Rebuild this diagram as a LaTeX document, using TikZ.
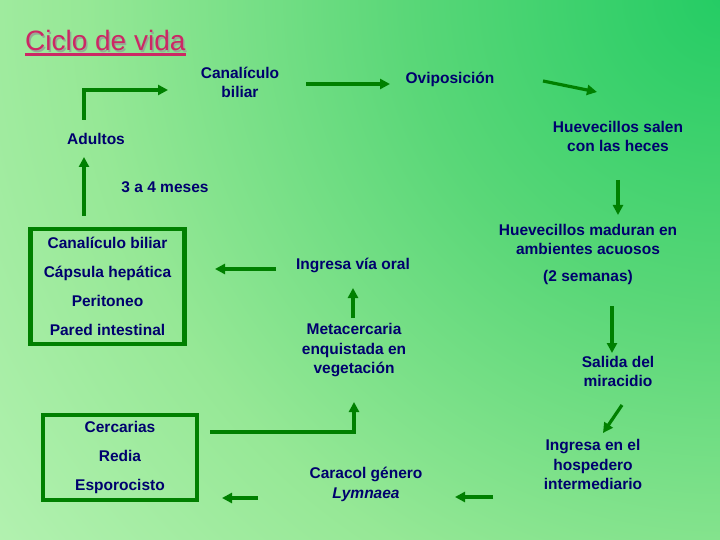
\documentclass[tikz,border=0pt]{standalone}
\usepackage{fontspec}
\setmainfont{Liberation Sans}
\usetikzlibrary{arrows.meta}
\definecolor{navy}{RGB}{0,0,110}
\definecolor{arrowgreen}{RGB}{0,128,0}
\definecolor{titlered}{RGB}{204,40,100}
\definecolor{shadowgray}{RGB}{150,170,150}
\definecolor{gA}{RGB}{36,204,100}
\definecolor{gB}{RGB}{90,215,120}
\definecolor{gC}{RGB}{150,232,150}
\definecolor{gD}{RGB}{196,247,192}
\pgfdeclareradialshading{bgshade}{\pgfpoint{0bp}{0bp}}{color(0bp)=(gA); color(8bp)=(gB); color(16bp)=(gC); color(27bp)=(gD); color(50bp)=(gD)}
\begin{document}
\begin{tikzpicture}[x=1pt,y=-1pt,
  lbl/.style={text=navy, font=\fontsize{15.5}{19.5}\selectfont\bfseries, align=center, inner sep=0pt},
  arr/.style={draw=arrowgreen, line width=3.2pt, -{Triangle[length=10pt,width=10pt]}},
  stagebox/.style={draw=arrowgreen, line width=4.3pt, inner sep=0pt, align=center,
    text=navy, font=\fontsize{15.5}{29}\selectfont\bfseries}
]
\useasboundingbox (0,0) rectangle (720,540);
\begin{scope}
  \clip (0,0) rectangle (720,540);
  \fill[gD] (0,0) rectangle (720,540);
  \shade[shading=bgshade] (725,-5) circle (1000);
\end{scope}

% title
\node[anchor=base west, inner sep=0pt, text=shadowgray, font=\fontsize{28}{30}\selectfont] at (26.5,52.5) {Ciclo de vida};
\node[anchor=base west, inner sep=0pt, text=titlered, font=\fontsize{28}{30}\selectfont] (title) at (25,51) {Ciclo de vida};
\draw[titlered, line width=3pt] ([yshift=-3.5pt]title.base west) -- ([yshift=-3.5pt]title.base east);

% boxes
\node[stagebox, minimum width=154, minimum height=115] (box1) at (107.5,286.5)
  {Canalículo biliar\\Cápsula hepática\\Peritoneo\\Pared intestinal};
\node[stagebox, minimum width=154, minimum height=85] (box2) at (120,457.5)
  {Cercarias\\Redia\\Esporocisto};

% labels
\node[lbl] (canal) at (240,82.5) {Canalículo\\biliar};
\node[lbl] (ovi) at (450,79) {Oviposición};
\node[lbl] (salen) at (618,136.5) {Huevecillos salen\\con las heces};
\node[lbl] (adultos) at (96,139) {Adultos};
\node[lbl] (meses) at (165,187) {3 a 4 meses};
\node[lbl] (maduran) at (588,239.5) {Huevecillos maduran en\\ambientes acuosos};
\node[lbl] (semanas) at (588,277) {(2 semanas)};
\node[lbl] (oral) at (353,265) {Ingresa vía oral};
\node[lbl] (meta) at (354,350.5) {Metacercaria\\enquistada en\\vegetación};
\node[lbl] (salida) at (618,371.5) {Salida del\\miracidio};
\node[lbl] (hosp) at (593,464.5) {Ingresa en el\\hospedero\\intermediario};
\node[lbl] (caracol) at (366,484.5) {Caracol género\\\textit{Lymnaea}};

% arrow end points
\coordinate (a1s) at (84,216);   \coordinate (a1e) at (84,157);
\coordinate (a2s) at (84,120);   \coordinate (a2e) at (168,90);
\coordinate (a3s) at (306,84);   \coordinate (a3e) at (390,84);
\coordinate (a4s) at (543,81);   \coordinate (a4e) at (597,92);
\coordinate (a5s) at (618,180);  \coordinate (a5e) at (618,215);
\coordinate (a6s) at (612,306);  \coordinate (a6e) at (612,353);
\coordinate (a7s) at (622,405);  \coordinate (a7e) at (603,433);
\coordinate (a8s) at (493,497);  \coordinate (a8e) at (455,497);
\coordinate (a9s) at (258,498);  \coordinate (a9e) at (222,498);
\coordinate (a10s) at (210,432); \coordinate (a10e) at (354,402);
\coordinate (a11s) at (353,318); \coordinate (a11e) at (353,288);
\coordinate (a12s) at (276,269); \coordinate (a12e) at (215,269);

\draw[arr] (a1s) -- (a1e);
\draw[arr] (a2s) |- (a2e);
\draw[arr] (a3s) -- (a3e);
\draw[arr] (a4s) -- (a4e);
\draw[arr] (a5s) -- (a5e);
\draw[arr] (a6s) -- (a6e);
\draw[arr] (a7s) -- (a7e);
\draw[arr] (a8s) -- (a8e);
\draw[arr] (a9s) -- (a9e);
\draw[arr] (a10s) -| (a10e);
\draw[arr] (a11s) -- (a11e);
\draw[arr] (a12s) -- (a12e);
\end{tikzpicture}
\end{document}
